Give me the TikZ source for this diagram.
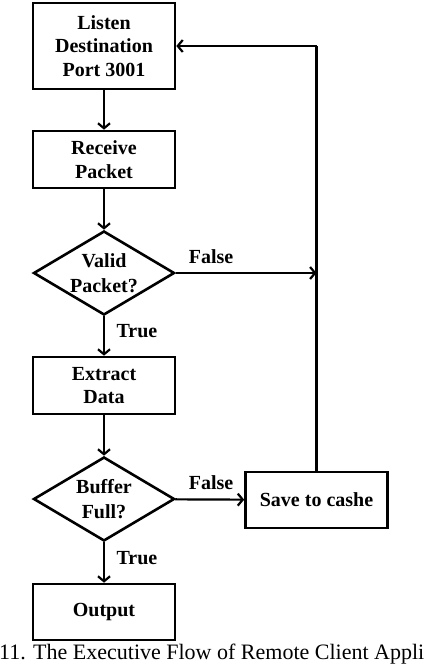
\documentclass[tikz,border=0pt]{standalone}
\usepackage{fontspec}
\setmainfont{Liberation Serif}
\usetikzlibrary{shapes.geometric,arrows.meta}
\begin{document}
\begin{tikzpicture}[x=1pt,y=-1pt,
  box/.style={draw,line width=2.6pt,minimum width=142pt,inner sep=0pt,align=center,font=\fontsize{20}{23.5}\selectfont\bfseries},
  dia/.style={draw,diamond,line width=2.6pt,minimum width=141pt,minimum height=84pt,inner sep=0pt},
  dtext/.style={align=center,inner sep=0pt,font=\fontsize{20}{24.5}\selectfont\bfseries},
  lbl/.style={inner sep=0pt,font=\fontsize{20}{23.5}\selectfont\bfseries},
  arr/.style={line width=2.2pt,-{Straight Barb[length=5pt,width=12pt,line width=2.2pt]}},
  ln/.style={line width=2.2pt}]
\useasboundingbox (0,0) rectangle (424,672);
\node[box,minimum height=86pt] (b1) at (104,46) {Listen\\Destination\\Port 3001};
\node[box,minimum height=57pt] (b2) at (104,159.5) {Receive\\Packet};
\node[dia] (d1) at (104,273) {};
\node[dtext] (t1) at (d1) {Valid\\Packet?};
\node[box,minimum height=57pt] (b3) at (104,385.5) {Extract\\Data};
\node[dia] (d2) at (104,499) {};
\node[dtext] (t2) at (d2) {Buffer\\Full?};
\node[box,minimum height=56pt] (sv) at (316.5,500) {Save to cashe};
\node[box,minimum height=56pt] (out) at (104,612) {Output};
\coordinate (j) at (sv.north |- d1.east);
\coordinate (k) at (sv.north |- b1.east);
\draw[arr] (b1) -- (b2);
\draw[arr] (b2) -- (d1);
\draw[arr] (d1) -- (b3);
\draw[arr] (b3) -- (d2);
\draw[arr] (d2) -- (out);
\draw[arr] (d2) -- (sv);
\draw[arr] (d1.east) -- (j);
\draw[ln] (sv.north) -- (k);
\draw[arr] (k) -- (b1.east);
\node[lbl] (f1) at (211,257) {False};
\node[lbl] (tr1) at (137,331) {True};
\node[lbl] (f2) at (211,483) {False};
\node[lbl] (tr2) at (137,558) {True};
\node[anchor=base west,inner sep=0pt,font=\fontsize{22}{24}\selectfont] (cap) at (-1,659) {11. The Executive Flow of Remote Client Appli};
\end{tikzpicture}
\end{document}
